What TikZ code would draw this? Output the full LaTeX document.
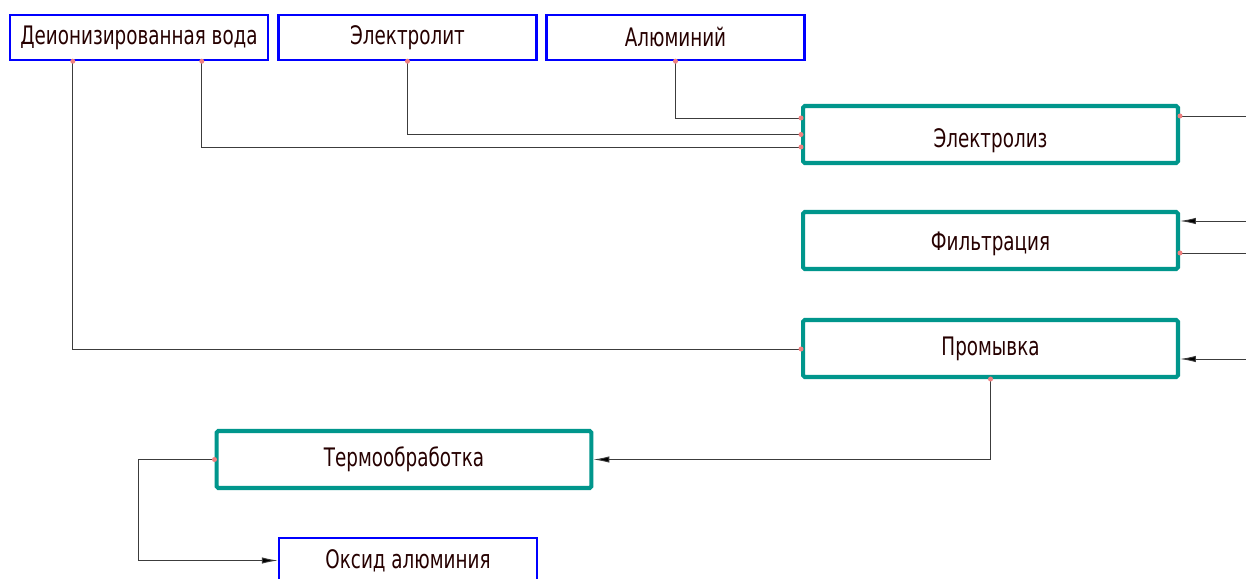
\documentclass[tikz,border=0pt]{standalone}
\usepackage{fontspec}
\setmainfont{DejaVu Sans}[FakeStretch=0.72]
\usetikzlibrary{arrows.meta,calc}
\definecolor{srcblue}{RGB}{0,0,255}
\definecolor{stepteal}{RGB}{0,150,140}
\definecolor{portred}{RGB}{240,128,128}
\definecolor{flowgray}{RGB}{60,60,60}
\begin{document}
\begin{tikzpicture}[x=0.02cm,y=-0.02cm,
  every node/.style={font=\fontsize{14.5}{16}\selectfont,text=black!85!red},
  srcbox/.style={draw=srcblue,line width=1.4pt,minimum width=5.16cm,minimum height=0.9cm,inner sep=0pt},
  stepbox/.style={draw=stepteal,line width=2.3pt,rounded corners=1pt,minimum width=7.5cm,minimum height=1.14cm,inner sep=0pt},
  flow/.style={draw=flowgray,line width=0.5pt},
  feed/.style={flow,-{Latex[length=9pt,width=3.6pt,fill=black]}},
  port/.style={fill=portred}]
    \useasboundingbox[fill=white] (0,0) rectangle (1246,578);
    \clip (0,0) rectangle (1246,578);
    % raw materials
    \node[srcbox] (dw) at (139,37.5) {Деионизированная вода};
    \node[srcbox] (el) at (407.5,37.5) {Электролит};
    \node[srcbox] (al) at (675.5,37.5) {Алюминий};
    % process steps
    \node[stepbox,label={[yshift=-0.12cm]center:Электролиз}] (elz) at (990.5,134.5) {};
    \node[stepbox,label={[yshift=-0.06cm]center:Фильтрация}] (flt) at (990.5,240.5) {};
    \node[stepbox] (prm) at (990.5,348.5) {Промывка};
    \node[stepbox] (trm) at (404,459.5) {Термообработка};
    % product
    \node[srcbox] (ox) at (408,560.5) {Оксид алюминия};
    % feeds into electrolysis and washing
    \draw[flow] ($(dw.south west)+(64,0)$) coordinate (dw1) |- ($(prm.west)+(0,0.5)$) coordinate (prm1);
    \draw[flow] ($(dw.south west)+(193,0)$) coordinate (dw2) |- ($(elz.north west)+(0,43)$) coordinate (elz3);
    \draw[flow] (el.south) |- (elz.west);
    \draw[flow] (al.south) |- ($(elz.north west)+(0,14)$) coordinate (elz1);
    % links to the right edge
    \coordinate (edge) at (1260,0);
    \draw[flow] ($(elz.north east)+(0,12)$) coordinate (elzo) -- (elzo -| edge);
    \coordinate (flti) at ($(flt.north east)+(0,11)$);
    \draw[feed] (flti -| edge) -- (flti);
    \draw[flow] ($(flt.north east)+(0,43)$) coordinate (flto) -- (flto -| edge);
    \coordinate (prmi) at ($(prm.north east)+(0,41)$);
    \draw[feed] (prmi -| edge) -- (prmi);
    % washing -> heat treatment -> oxide
    \draw[feed] (prm.south) |- (trm.east);
    \draw[feed] (trm.west) -- ++(-76,0) |- (ox.west);
    % ports
    \foreach \p in {dw1,dw2,el.south,al.south,elz1,elz.west,elz3,prm1,elzo,flto,prm.south,trm.west}
        \fill[port] (\p) circle (0.05cm);
\end{tikzpicture}
\end{document}
